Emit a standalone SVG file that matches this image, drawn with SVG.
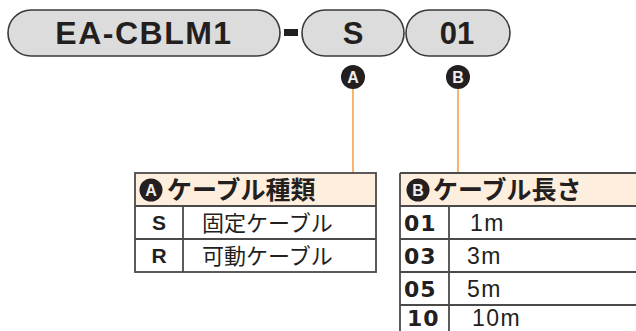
<svg xmlns="http://www.w3.org/2000/svg" width="636" height="331" viewBox="0 0 636 331">
<style>
.pill{fill:#dcdcdc;stroke:#3a3a3a;stroke-width:1.6}
.pt{font-family:"Liberation Sans",Arial,sans-serif;font-weight:bold;fill:#231f20;text-anchor:middle}
.badge{fill:#231f20}
.bt{font-family:"Liberation Sans",Arial,sans-serif;font-weight:bold;fill:#eeeeee;text-anchor:middle;font-size:16px}
.lead{stroke:#f5a24c;stroke-width:1.6;fill:none}
.tb{stroke:#4a4a4a;stroke-width:1.8;fill:none}
.hd{fill:#fdeedd}
.jh{font-family:"Noto Sans CJK JP","Noto Sans",sans-serif;font-weight:bold;fill:#231f20;font-size:25px}
.jb{font-family:"Noto Sans CJK JP","Noto Sans",sans-serif;fill:#231f20;font-size:22px}
.cd{font-family:"Liberation Sans",Arial,sans-serif;font-weight:bold;fill:#231f20;font-size:21px;text-anchor:middle}
.cb{font-family:"DejaVu Sans",sans-serif;font-weight:bold;fill:#231f20;font-size:22px;letter-spacing:1px}
.vb{font-family:"Liberation Sans",Arial,sans-serif;fill:#231f20;font-size:23px;letter-spacing:1.5px}
</style>
<g id="part-base">
<rect class="pill" x="8" y="10" width="272" height="46" rx="23"/>
<text class="pt" x="144" y="44" font-size="32" letter-spacing="1.5">EA-CBLM1</text>
</g>
<g id="dash"><rect x="284" y="29" width="14" height="7" fill="#231f20"/></g>
<g id="part-s">
<rect class="pill" x="302" y="10" width="102" height="46" rx="23"/>
<text class="pt" x="353" y="44" font-size="31">S</text>
</g>
<g id="part-01">
<rect class="pill" x="406" y="10" width="104" height="46" rx="23"/>
<text class="pt" x="457" y="44" font-size="31">01</text>
</g>
<g id="badge-a">
<circle class="badge" cx="353" cy="77" r="12"/>
<text class="bt" x="353" y="83">A</text>
</g>
<g id="badge-b">
<circle class="badge" cx="458" cy="77" r="12"/>
<text class="bt" x="458" y="83">B</text>
</g>
<g id="connectors">
<line class="lead" x1="353" y1="89" x2="353" y2="173"/>
<line class="lead" x1="458" y1="89" x2="458" y2="173"/>
</g>
<g id="table-a">
<rect class="hd" x="135" y="173" width="241" height="33"/>
<rect class="tb" x="135" y="173" width="241" height="99"/>
<line class="tb" x1="135" y1="206" x2="376" y2="206"/>
<line class="tb" x1="135" y1="239" x2="376" y2="239"/>
<line class="tb" x1="183" y1="206" x2="183" y2="272"/>
<circle class="badge" cx="151" cy="190" r="11.5"/>
<text class="bt" x="151" y="196" font-size="15">A</text>
<text class="jh" x="167" y="199">ケーブル種類</text>
<text class="cd" x="159" y="230">S</text>
<text class="jb" x="202" y="231">固定ケーブル</text>
<text class="cd" x="159" y="263">R</text>
<text class="jb" x="202" y="264">可動ケーブル</text>
</g>
<g id="table-b">
<rect class="hd" x="400" y="173" width="240" height="33"/>
<line class="tb" x1="400" y1="173" x2="640" y2="173"/>
<line class="tb" x1="400" y1="173" x2="400" y2="335"/>
<line class="tb" x1="400" y1="206" x2="640" y2="206"/>
<line class="tb" x1="400" y1="239" x2="640" y2="239"/>
<line class="tb" x1="400" y1="272" x2="640" y2="272"/>
<line class="tb" x1="400" y1="305" x2="640" y2="305"/>
<line class="tb" x1="449" y1="206" x2="449" y2="335"/>
<circle class="badge" cx="418" cy="190" r="11.5"/>
<text class="bt" x="418" y="196" font-size="15">B</text>
<text class="jh" x="433" y="199">ケーブル長さ</text>
<text class="cb" x="404" y="231">01</text>
<text class="vb" x="470" y="231">1m</text>
<text class="cb" x="404" y="264">03</text>
<text class="vb" x="467" y="264">3m</text>
<text class="cb" x="404" y="297">05</text>
<text class="vb" x="467" y="297">5m</text>
<text class="cb" x="407" y="326">10</text>
<text class="vb" x="472" y="326">10m</text>
</g>
</svg>
